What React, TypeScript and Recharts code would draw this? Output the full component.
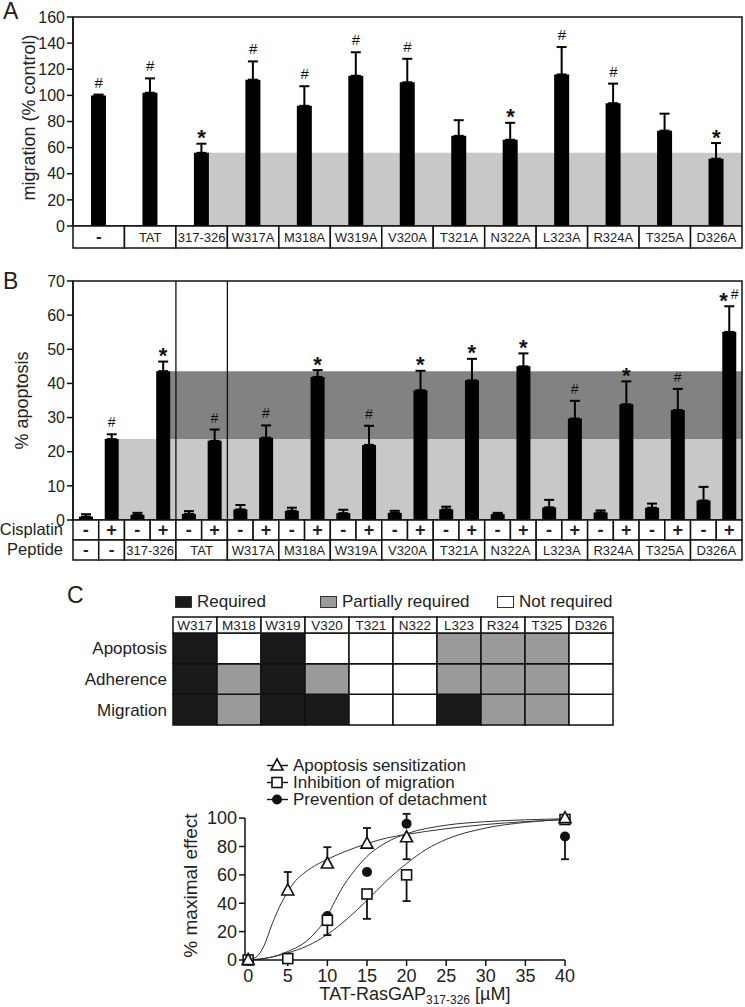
import React from "react";
import {
  ComposedChart,
  BarChart,
  Bar,
  Line,
  Scatter,
  XAxis,
  YAxis,
  ErrorBar,
  ReferenceArea,
  ReferenceLine,
  Legend,
  Label,
  Cell,
} from "recharts";

document.body.style.margin = "0";

const FONT = '"Liberation Sans", Arial, Helvetica, sans-serif';
const INK = "#111";
const TEXT = "#222";
const LIGHT = "#c8c8c8";
const DARK = "#828282";

// --- panel A: migration (% control)
const migLabels = ["-", "TAT", "317-326", "W317A", "M318A", "W319A", "V320A", "T321A", "N322A", "L323A", "R324A", "T325A", "D326A"];
const migValues = [100, 102, 56, 112, 92, 115, 110, 69, 66, 116, 94, 73, 51.5];
const migErrors = [0.6, 11, 7, 14, 15, 18, 18, 12, 13, 21, 15, 13, 12];
const migMarks = ["#", "#", "*", "#", "#", "#", "#", "", "*", "#", "#", "", "*"];
const migTicks = [0, 20, 40, 60, 80, 100, 120, 140, 160];

// --- panel B: % apoptosis, one entry per bar
const apoCisplatin = ["-", "+", "-", "+", "-", "+", "-", "+", "-", "+", "-", "+", "-", "+", "-", "+", "-", "+", "-", "+", "-", "+", "-", "+", "-", "+"];
const apoValues = [1.0, 23.7, 1.5, 43.6, 1.8, 23.2, 3.1, 24.1, 2.7, 41.9, 2.0, 22.0, 2.1, 38.0, 3.1, 40.9, 1.7, 45.0, 3.7, 29.7, 2.2, 33.9, 3.6, 32.2, 5.7, 55.1];
const apoErrors = [0.7, 1.4, 0.6, 2.8, 0.8, 3.3, 1.3, 3.6, 0.9, 2.0, 1.0, 5.6, 0.6, 5.7, 0.8, 6.3, 0.4, 3.8, 2.2, 5.2, 0.6, 6.7, 1.2, 6.2, 4.0, 7.5];
const apoMarks = ["", "#", "", "*", "", "#", "", "#", "", "*", "", "#", "", "*", "", "*", "", "*", "", "#", "", "*", "", "#", "", "*#"];
const apoTicks = [0, 10, 20, 30, 40, 50, 60, 70];
const peptideCells = ["-", "-", "317-326", "TAT", "W317A", "M318A", "W319A", "V320A", "T321A", "N322A", "L323A", "R324A", "T325A", "D326A"];
const peptideSpans = [1, 1, 2, 2, 2, 2, 2, 2, 2, 2, 2, 2, 2, 2];

// --- panel C: requirement table
const residues = ["W317", "M318", "W319", "V320", "T321", "N322", "L323", "R324", "T325", "D326"];
const rowNames = ["Apoptosis", "Adherence", "Migration"];
const apoptosisReq = ["R", "N", "R", "N", "N", "N", "P", "P", "P", "N"];
const adherenceReq = ["R", "P", "R", "P", "N", "N", "P", "P", "P", "N"];
const migrationReq = ["R", "P", "R", "R", "N", "N", "R", "P", "P", "N"];
const reqNames = ["Required", "Partially required", "Not required"];
const reqKeys = ["R", "P", "N"];

// --- panel D: dose response
const doses = [0, 5, 10, 15, 20, 40];
const apoSens = [0, 49, 68, 82, 86.5, 100];
const apoSensErr = [[0, 0], [0, 13], [0, 11.5], [0, 11], [15.5, 0], [0, 0]];
const migInhib = [0, 1, 28, 46.5, 60, 99];
const migInhibErr = [[0, 0], [0, 0], [10.5, 0], [17.5, 0], [18.5, 0], [0, 0]];
const detach = [0, 1.5, 31, 62, 96, 87];
const detachErr = [[0, 0], [0, 0], [0, 0], [0, 0], [0, 7], [16, 0]];

const apoCurveX = [0, 1, 2, 3, 4, 5, 6, 7, 8, 10, 12.5, 15, 17.5, 20, 25, 30, 35, 40];
const apoCurveY = [0, 2, 10, 25, 38, 48, 56, 61, 65, 71, 77, 82, 86, 88.5, 92.5, 95.5, 97.5, 99];
const detCurveX = [0, 2.5, 5, 7.5, 10, 11, 12, 13, 14, 15, 17.5, 20, 25, 30, 35, 40];
const detCurveY = [0, 1.5, 6, 14, 31, 42, 52, 60, 67, 73, 83, 89, 95, 97.5, 98.8, 99.5];
const migCurveX = [0, 2.5, 5, 7.5, 10, 12.5, 15, 17.5, 20, 22.5, 25, 30, 35, 40];
const migCurveY = [0, 1.5, 5, 10, 18, 29, 42, 56, 68, 78, 85, 93, 97, 99];
const doseTicks = [0, 5, 10, 15, 20, 25, 30, 35, 40];
const effectTicks = [0, 20, 40, 60, 80, 100];

// layout
const PLOT_W = 669; // A and B plot width
const A_BAR = 15;
const B_BAR = 14;
const C_W = 440;

const migRows = migLabels.map((l, i) => ({
  x: i + 0.5,
  value: migValues[i],
  err: [0, migErrors[i]],
  cap: migValues[i] + migErrors[i],
  mark: migMarks[i],
}));

const apoRows = apoValues.map((v, i) => ({
  x: i + 0.5,
  value: v,
  err: [0, apoErrors[i]],
  cap: v + apoErrors[i],
  mark: apoMarks[i],
}));

const pepStarts = peptideSpans.map((_, k) => peptideSpans.slice(0, k).reduce((a, b) => a + b, 0));

const cRows = residues.map((r) => ({ res: r, migration: 1, adherence: 1, apoptosis: 1 }));
const statusFill: Record<string, string> = { R: "#1a1a1a", P: "#9a9a9a", N: "#ffffff" };

const toXY = (xs: number[], ys: number[]) => xs.map((x, i) => ({ x, y: ys[i] }));
const pts = (ys: number[], errs: number[][]) => doses.map((x, i) => ({ x, y: ys[i], err: errs[i] }));

const yLabel = (text: string, cx: number, size: number, dy = 0) => (props: any) => {
  const vb = props.viewBox;
  const cy = vb.y + vb.height / 2 + dy;
  return (
    <text
      x={cx}
      y={cy}
      transform={`rotate(-90, ${cx}, ${cy})`}
      textAnchor="middle"
      dominantBaseline="central"
      fontSize={size}
      fill={TEXT}
    >
      {text}
    </text>
  );
};

const markShape = (hashSize: number, starSize: number) => (props: any) => {
  const { cx, cy, payload } = props;
  const m: string = payload.mark;
  if (!m) return <g />;
  const parts = m.split("");
  const step = 11;
  const x0 = cx - ((parts.length - 1) * step) / 2;
  return (
    <g>
      {parts.map((c, k) =>
        c === "*" ? (
          <text key={k} x={x0 + k * step} y={cy + 1.5} textAnchor="middle" fontSize={starSize} fontWeight="bold" fill={INK}>
            *
          </text>
        ) : (
          <text key={k} x={x0 + k * step} y={cy - 7} textAnchor="middle" fontSize={hashSize} fill={INK}>
            #
          </text>
        )
      )}
    </g>
  );
};

const MigTick = (props: any) => {
  const { x, y, payload } = props;
  const i = Math.round(payload.value - 0.5);
  const w = PLOT_W / migLabels.length;
  const dash = migLabels[i] === "-";
  return (
    <g>
      <rect x={x - w / 2} y={y} width={w} height={22} fill="#fff" stroke={INK} strokeWidth={1.5} />
      <text x={x} y={y + 16} textAnchor="middle" fontSize={dash ? 17 : 13} fontWeight={dash ? "bold" : "normal"} fill={TEXT}>
        {migLabels[i]}
      </text>
    </g>
  );
};

const ApoTick = (props: any) => {
  const { x, y, payload } = props;
  const i = Math.round(payload.value - 0.5);
  const w = PLOT_W / apoValues.length;
  const k = pepStarts.indexOf(i);
  return (
    <g>
      <rect x={x - w / 2} y={y} width={w} height={20} fill="#fff" stroke={INK} strokeWidth={1.5} />
      <text x={x} y={y + 16} textAnchor="middle" fontSize={18} fontWeight="bold" fill={TEXT}>
        {apoCisplatin[i]}
      </text>
      {k >= 0 && (
        <g>
          <rect x={x - w / 2} y={y + 20} width={w * peptideSpans[k]} height={20} fill="#fff" stroke={INK} strokeWidth={1.5} />
          <text
            x={x - w / 2 + (w * peptideSpans[k]) / 2}
            y={y + 35}
            textAnchor="middle"
            fontSize={peptideCells[k] === "-" ? 17 : 13}
            fontWeight={peptideCells[k] === "-" ? "bold" : "normal"}
            fill={TEXT}
          >
            {peptideCells[k]}
          </text>
        </g>
      )}
      {i === 0 && (
        <g>
          <text x={x - w / 2 - 10} y={y + 15} textAnchor="end" fontSize={16.5} fill={TEXT}>
            Cisplatin
          </text>
          <text x={x - w / 2 - 10} y={y + 35} textAnchor="end" fontSize={16.5} fill={TEXT}>
            Peptide
          </text>
        </g>
      )}
    </g>
  );
};

const ResidueTick = (props: any) => {
  const { x, y, payload } = props;
  const w = C_W / residues.length;
  return (
    <g>
      <rect x={x - w / 2} y={y - 16} width={w} height={16} fill="#fff" stroke={INK} strokeWidth={1.5} />
      <text x={x} y={y - 3} textAnchor="middle" fontSize={13.5} fill={TEXT}>
        {payload.value}
      </text>
    </g>
  );
};

const reqLeft = [2, 147, 324];
const ReqLegend = () => (
  <div style={{ position: "relative", width: C_W, height: 20, fontSize: 17, color: TEXT, fontFamily: FONT }}>
    {reqNames.map((n, i) => (
      <div key={n} style={{ position: "absolute", left: reqLeft[i], top: 0, height: 20, display: "flex", alignItems: "center" }}>
        <span
          style={{
            display: "inline-block",
            width: 15,
            height: 10,
            background: statusFill[reqKeys[i]],
            border: "1px solid #333",
            marginRight: 5,
          }}
        />
        <span>{n}</span>
      </div>
    ))}
  </div>
);

const Tri = ({ cx, cy }: any) => (
  <path d={`M${cx},${cy - 6.5} L${cx + 6},${cy + 4.5} L${cx - 6},${cy + 4.5} Z`} fill="#fff" stroke={INK} strokeWidth={1.6} />
);
const Sq = ({ cx, cy }: any) => (
  <rect x={cx - 5} y={cy - 5} width={10} height={10} fill="#fff" stroke={INK} strokeWidth={1.6} />
);
const Dot = ({ cx, cy }: any) => <circle cx={cx} cy={cy} r={5} fill={INK} />;

const doseSeries = [
  { name: "Apoptosis sensitization", Marker: Tri },
  { name: "Inhibition of migration", Marker: Sq },
  { name: "Prevention of detachment", Marker: Dot },
];

const DoseLegend = () => (
  <div style={{ height: 51, fontSize: 17, color: TEXT, fontFamily: FONT }}>
    {doseSeries.map(({ name, Marker }) => (
      <div key={name} style={{ display: "flex", alignItems: "center", height: 17, whiteSpace: "nowrap" }}>
        <svg width={26} height={17}>
          <line x1={3} x2={24} y1={8.5} y2={8.5} stroke={INK} strokeWidth={1.4} />
          <Marker cx={13} cy={8.5} />
        </svg>
        <span style={{ marginLeft: 3 }}>{name}</span>
      </div>
    ))}
  </div>
);

const doseLabel = (props: any) => {
  const vb = props.viewBox;
  const cx = vb.x + vb.width / 2 + 10;
  return (
    <text x={cx} y={vb.y + 40} textAnchor="middle" fontSize={18} fill={TEXT}>
      TAT-RasGAP
      <tspan fontSize={12} dy={4}>
        317-326
      </tspan>
      <tspan dy={-4}> [µM]</tspan>
    </text>
  );
};

const letter = (t: string, left: number, top: number) => (
  <div style={{ position: "absolute", left, top, fontSize: 23, color: TEXT, lineHeight: "23px" }}>{t}</div>
);

const axisTick = (size: number) => ({ fontSize: size, fill: TEXT });

export default function App() {
  const halfA = A_BAR / 2 / (PLOT_W / migLabels.length);
  const halfB = B_BAR / 2 / (PLOT_W / apoValues.length);
  return (
    <div style={{ position: "relative", width: 745, height: 1007, background: "#fff", fontFamily: FONT, overflow: "hidden" }}>
      {letter("A", 3, 0)}
      {letter("B", 3, 270)}
      {letter("C", 67, 584)}
      {letter("D", 204, 693)}

      <div style={{ position: "absolute", left: 0, top: 0 }}>
        <ComposedChart width={745} height={250} data={migRows} margin={{ top: 17, right: 3, bottom: 2, left: 0 }}>
          <XAxis
            type="number"
            dataKey="x"
            domain={[0, migLabels.length]}
            ticks={migRows.map((r) => r.x)}
            interval={0}
            tick={MigTick}
            tickSize={0}
            tickMargin={0}
            axisLine={false}
            height={22}
          />
          <YAxis
            type="number"
            domain={[0, 160]}
            ticks={migTicks}
            interval={0}
            width={73}
            tickSize={6}
            tickMargin={2}
            tick={axisTick(16)}
            axisLine={{ stroke: INK, strokeWidth: 1.5 }}
            tickLine={{ stroke: INK, strokeWidth: 1.5 }}
          >
            <Label content={yLabel("migration (% control)", 29, 18, -4)} />
          </YAxis>
          <ReferenceArea x1={2.5 + halfA} x2={migLabels.length} y1={0} y2={migValues[2]} fill={LIGHT} fillOpacity={1} stroke="none" />
          <ReferenceArea x1={0} x2={migLabels.length} y1={0} y2={160} fill="none" fillOpacity={0} stroke={INK} strokeWidth={1.5} />
          <Bar dataKey="value" fill="#000" barSize={A_BAR} isAnimationActive={false}>
            <ErrorBar dataKey="err" direction="y" width={5} stroke="#000" strokeWidth={2} />
          </Bar>
          <Scatter dataKey="cap" shape={markShape(15, 22)} isAnimationActive={false} />
        </ComposedChart>
      </div>

      <div style={{ position: "absolute", left: 0, top: 250 }}>
        <ComposedChart width={745} height={315} data={apoRows} margin={{ top: 31, right: 3, bottom: 5, left: 0 }}>
          <XAxis
            type="number"
            dataKey="x"
            domain={[0, apoValues.length]}
            ticks={apoRows.map((r) => r.x)}
            interval={0}
            tick={ApoTick}
            tickSize={0}
            tickMargin={0}
            axisLine={false}
            height={40}
          />
          <YAxis
            type="number"
            domain={[0, 70]}
            ticks={apoTicks}
            interval={0}
            width={73}
            tickSize={6}
            tickMargin={2}
            tick={axisTick(16)}
            axisLine={{ stroke: INK, strokeWidth: 1.5 }}
            tickLine={{ stroke: INK, strokeWidth: 1.5 }}
          >
            <Label content={yLabel("% apoptosis", 22, 18)} />
          </YAxis>
          <ReferenceArea x1={1.5 + halfB} x2={apoValues.length} y1={0} y2={apoValues[1]} fill={LIGHT} fillOpacity={1} stroke="none" />
          <ReferenceArea x1={3.5 + halfB} x2={apoValues.length} y1={apoValues[1]} y2={apoValues[3]} fill={DARK} fillOpacity={1} stroke="none" />
          <ReferenceLine x={4} stroke={INK} strokeWidth={1.3} />
          <ReferenceLine x={6} stroke={INK} strokeWidth={1.3} />
          <ReferenceArea x1={0} x2={apoValues.length} y1={0} y2={70} fill="none" fillOpacity={0} stroke={INK} strokeWidth={1.5} />
          <Bar dataKey="value" fill="#000" barSize={B_BAR} isAnimationActive={false}>
            <ErrorBar dataKey="err" direction="y" width={5} stroke="#000" strokeWidth={2} />
          </Bar>
          <Scatter dataKey="cap" shape={markShape(14, 22)} isAnimationActive={false} />
        </ComposedChart>
      </div>

      <div style={{ position: "absolute", left: 0, top: 580 }}>
        <BarChart width={745} height={150} data={cRows} barCategoryGap={0} margin={{ top: 17, right: 132, bottom: 5, left: 0 }}>
          <Legend verticalAlign="top" align="left" content={ReqLegend} wrapperStyle={{ top: 12, left: 173, width: C_W }} />
          <XAxis
            orientation="top"
            dataKey="res"
            type="category"
            interval={0}
            tick={ResidueTick}
            tickSize={0}
            tickMargin={0}
            axisLine={false}
            height={16}
          />
          <YAxis
            type="number"
            domain={[0, 3]}
            ticks={[0.5, 1.5, 2.5]}
            interval={0}
            tickFormatter={(v: number) => rowNames[2 - Math.floor(v)]}
            width={173}
            tickSize={0}
            tickMargin={6}
            axisLine={false}
            tickLine={false}
            tick={axisTick(17)}
          />
          <Bar dataKey="migration" stackId="t" stroke={INK} strokeWidth={1.5} isAnimationActive={false}>
            {migrationReq.map((s, i) => (
              <Cell key={i} fill={statusFill[s]} />
            ))}
          </Bar>
          <Bar dataKey="adherence" stackId="t" stroke={INK} strokeWidth={1.5} isAnimationActive={false}>
            {adherenceReq.map((s, i) => (
              <Cell key={i} fill={statusFill[s]} />
            ))}
          </Bar>
          <Bar dataKey="apoptosis" stackId="t" stroke={INK} strokeWidth={1.5} isAnimationActive={false}>
            {apoptosisReq.map((s, i) => (
              <Cell key={i} fill={statusFill[s]} />
            ))}
          </Bar>
        </BarChart>
      </div>

      <div style={{ position: "absolute", left: 0, top: 700 }}>
        <ComposedChart width={745} height={307} margin={{ top: 60, right: 180, bottom: 0, left: 0 }}>
          <Legend verticalAlign="top" align="left" content={DoseLegend} wrapperStyle={{ top: 57, left: 264, width: "auto" }} />
          <XAxis
            type="number"
            dataKey="x"
            domain={[-0.4, 40]}
            ticks={doseTicks}
            interval={0}
            height={47}
            tickSize={6}
            tickMargin={3}
            tick={axisTick(18)}
            axisLine={{ stroke: INK, strokeWidth: 1.5 }}
            tickLine={{ stroke: INK, strokeWidth: 1.5 }}
          >
            <Label content={doseLabel} />
          </XAxis>
          <YAxis
            type="number"
            domain={[0, 105]}
            ticks={effectTicks}
            interval={0}
            width={245}
            tickSize={6}
            tickMargin={2}
            tick={axisTick(18)}
            axisLine={false}
            tickLine={{ stroke: INK, strokeWidth: 1.5 }}
          >
            <Label content={yLabel("% maximal effect", 190, 19)} />
          </YAxis>
          <ReferenceLine segment={[{ x: -0.4, y: 0 }, { x: -0.4, y: 100 }]} stroke={INK} strokeWidth={1.5} />
          <Line data={toXY(apoCurveX, apoCurveY)} dataKey="y" type="monotone" stroke="#333" strokeWidth={1} dot={false} isAnimationActive={false} />
          <Line data={toXY(detCurveX, detCurveY)} dataKey="y" type="monotone" stroke="#333" strokeWidth={1} dot={false} isAnimationActive={false} />
          <Line data={toXY(migCurveX, migCurveY)} dataKey="y" type="monotone" stroke="#333" strokeWidth={1} dot={false} isAnimationActive={false} />
          <Scatter data={pts(detach, detachErr)} dataKey="y" shape={Dot} isAnimationActive={false}>
            <ErrorBar dataKey="err" direction="y" width={4} stroke={INK} strokeWidth={1.8} />
          </Scatter>
          <Scatter data={pts(migInhib, migInhibErr)} dataKey="y" shape={Sq} isAnimationActive={false}>
            <ErrorBar dataKey="err" direction="y" width={4} stroke={INK} strokeWidth={1.8} />
          </Scatter>
          <Scatter data={pts(apoSens, apoSensErr)} dataKey="y" shape={Tri} isAnimationActive={false}>
            <ErrorBar dataKey="err" direction="y" width={4} stroke={INK} strokeWidth={1.8} />
          </Scatter>
        </ComposedChart>
      </div>
    </div>
  );
}
